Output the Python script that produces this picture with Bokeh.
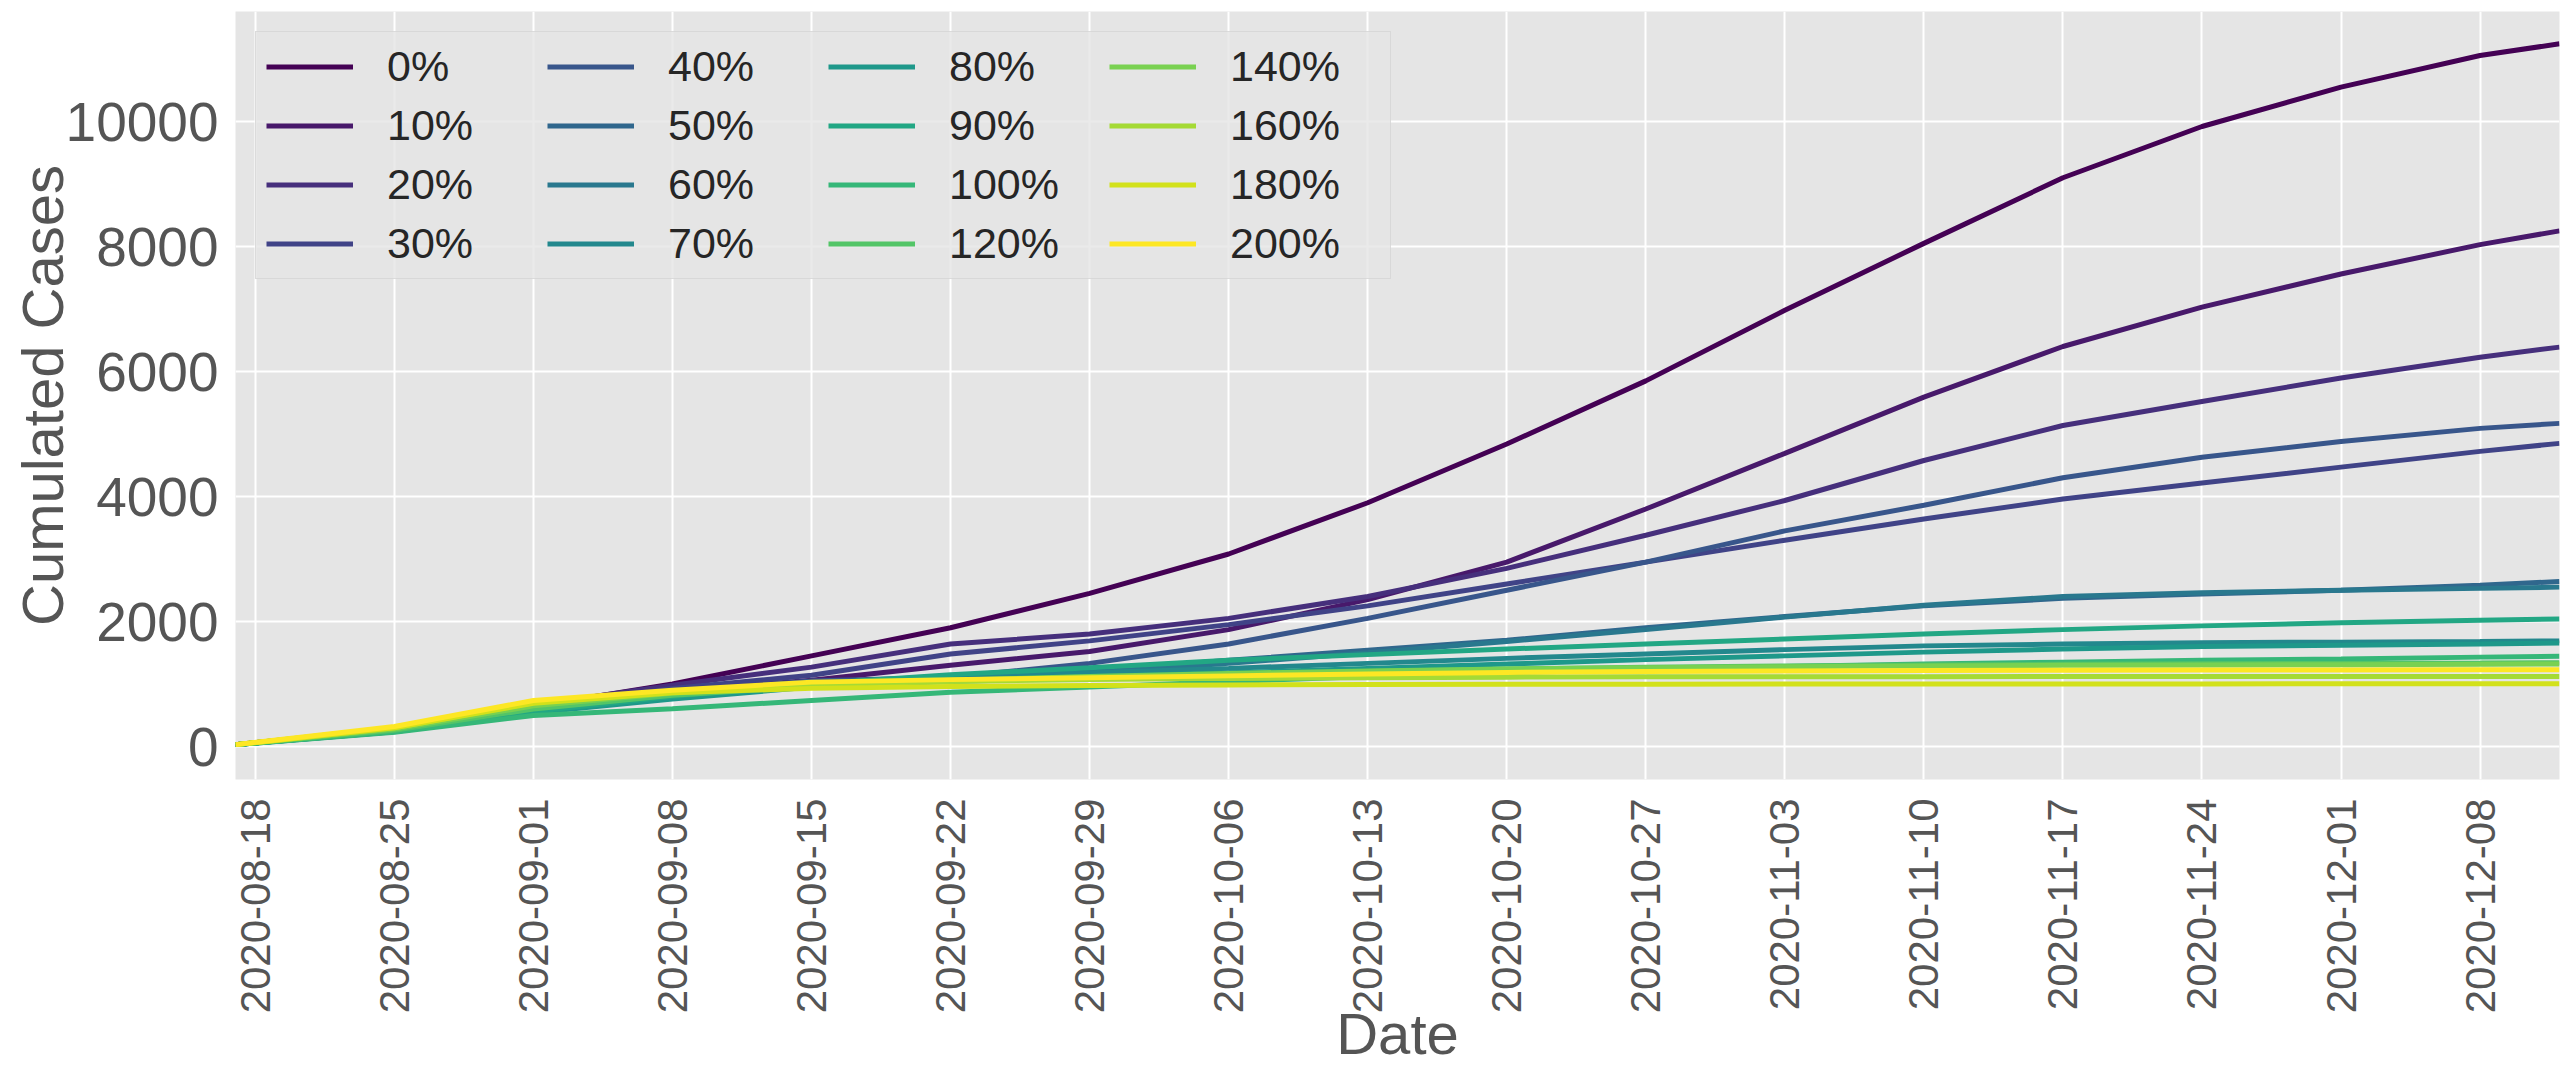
import math
import pandas as pd
from bokeh.plotting import figure
from bokeh.models import (Range1d, FixedTicker, DatetimeTickFormatter, Legend,
                          LegendItem, ColumnDataSource)
from bokeh.palettes import Viridis256
from bokeh.embed import file_html
from bokeh.resources import INLINE

# ---------------- data ----------------
dates = ["2020-08-17", "2020-08-25", "2020-09-01", "2020-09-08", "2020-09-15",
         "2020-09-22", "2020-09-29", "2020-10-06", "2020-10-13", "2020-10-20",
         "2020-10-27", "2020-11-03", "2020-11-10", "2020-11-17", "2020-11-24",
         "2020-12-01", "2020-12-08", "2020-12-12"]

labels = ["0%", "10%", "20%", "30%", "40%", "50%", "60%", "70%", "80%", "90%",
          "100%", "120%", "140%", "160%", "180%", "200%"]

cases_0 = [30, 270, 640, 1000, 1450, 1900, 2450, 3080, 3900, 4840, 5850, 6980, 8050, 9100, 9920, 10550, 11056, 11243]
cases_10 = [30, 250, 600, 880, 1060, 1300, 1520, 1870, 2350, 2950, 3800, 4690, 5590, 6400, 7030, 7560, 8030, 8250]
cases_20 = [30, 280, 660, 980, 1270, 1640, 1800, 2050, 2400, 2850, 3380, 3936, 4576, 5136, 5520, 5895, 6229, 6390]
cases_30 = [30, 270, 630, 930, 1140, 1480, 1690, 1950, 2250, 2600, 2950, 3300, 3640, 3960, 4215, 4470, 4722, 4850]
cases_40 = [30, 260, 600, 860, 1050, 1110, 1330, 1640, 2050, 2500, 2950, 3450, 3860, 4300, 4629, 4880, 5090, 5170]
cases_50 = [30, 250, 570, 820, 1000, 1080, 1200, 1380, 1540, 1700, 1900, 2080, 2250, 2370, 2440, 2500, 2580, 2640]
cases_60 = [30, 240, 560, 800, 980, 1060, 1170, 1330, 1500, 1680, 1870, 2070, 2260, 2400, 2460, 2500, 2530, 2550]
cases_70 = [30, 240, 550, 790, 970, 1100, 1180, 1250, 1330, 1410, 1480, 1550, 1610, 1640, 1660, 1670, 1680, 1690]
cases_80 = [30, 235, 540, 760, 950, 1050, 1120, 1180, 1250, 1320, 1390, 1450, 1510, 1560, 1600, 1620, 1640, 1655]
cases_90 = [30, 245, 560, 800, 1000, 1150, 1260, 1380, 1470, 1560, 1640, 1720, 1800, 1870, 1930, 1980, 2020, 2040]
cases_100 = [30, 229, 496, 603, 736, 869, 950, 1040, 1120, 1180, 1230, 1280, 1320, 1350, 1380, 1400, 1430, 1445]
cases_120 = [30, 260, 600, 820, 960, 1040, 1100, 1150, 1200, 1240, 1270, 1290, 1305, 1315, 1325, 1330, 1335, 1340]
cases_140 = [30, 280, 650, 850, 980, 1060, 1120, 1170, 1210, 1240, 1260, 1275, 1290, 1300, 1305, 1310, 1315, 1320]
cases_160 = [30, 300, 700, 880, 990, 1040, 1070, 1090, 1100, 1110, 1115, 1117, 1118, 1119, 1120, 1120, 1120, 1120]
cases_180 = [30, 300, 690, 860, 930, 960, 975, 985, 992, 996, 998, 1000, 1001, 1002, 1002, 1003, 1003, 1003]
cases_200 = [30, 320, 736, 900, 1030, 1070, 1100, 1130, 1160, 1185, 1200, 1210, 1218, 1222, 1225, 1226, 1227, 1227]

series = [cases_0, cases_10, cases_20, cases_30, cases_40, cases_50, cases_60, cases_70,
          cases_80, cases_90, cases_100, cases_120, cases_140, cases_160, cases_180, cases_200]

tick_dates = ["2020-08-18", "2020-08-25", "2020-09-01", "2020-09-08", "2020-09-15",
              "2020-09-22", "2020-09-29", "2020-10-06", "2020-10-13", "2020-10-20",
              "2020-10-27", "2020-11-03", "2020-11-10", "2020-11-17", "2020-11-24",
              "2020-12-01", "2020-12-08"]
y_ticks = [0, 2000, 4000, 6000, 8000, 10000]
x_title = "Date"
y_title = "Cumulated Cases"

# ---------------- figure ----------------
x = pd.to_datetime(dates)
n = len(series)
colors = [Viridis256[round(i * 255 / (n - 1))] for i in range(n)]

def ms(d):
    return pd.Timestamp(d).value // 10**6

p = figure(width=2568, height=1073, x_axis_type="datetime",
           output_backend="svg", toolbar_location=None,
           x_range=Range1d(ms("2020-08-17"), ms("2020-12-12")),
           y_range=Range1d(-528, 11760),
           min_border_left=235, min_border_right=9, min_border_top=11,
           min_border_bottom=294)

p.background_fill_color = "#E5E5E5"
p.border_fill_color = "white"
p.outline_line_color = None

items = []
for lab, vals, col in zip(labels, series, colors):
    src = ColumnDataSource(dict(x=x, y=vals))
    r = p.line("x", "y", source=src, line_color=col, line_width=5)
    items.append(LegendItem(label=lab, renderers=[r]))

# grid
for g in (p.xgrid, p.ygrid):
    g.grid_line_color = "white"
    g.grid_line_width = 2

# axes
p.xaxis.ticker = FixedTicker(ticks=[ms(d) for d in tick_dates])
fmt = "%Y-%m-%d"
p.xaxis.formatter = DatetimeTickFormatter(milliseconds=fmt, seconds=fmt, minsec=fmt,
                                          minutes=fmt, hourmin=fmt, hours=fmt,
                                          days=fmt, months=fmt, years=fmt)
p.yaxis.ticker = FixedTicker(ticks=y_ticks)

for ax in (p.xaxis[0], p.yaxis[0]):
    ax.axis_line_color = None
    ax.major_tick_line_color = None
    ax.minor_tick_line_color = None
    ax.major_tick_out = 0
    ax.major_tick_in = 0
    ax.minor_tick_out = 0
    ax.major_label_text_color = "#555555"
    ax.major_label_text_font = "Liberation Sans"
    ax.axis_label_text_color = "#555555"
    ax.axis_label_text_font = "Liberation Sans"
    ax.axis_label_text_font_style = "normal"
    ax.axis_label_text_font_size = "58px"

p.xaxis.major_label_orientation = math.pi / 2
p.xaxis.major_label_text_font_size = "42px"
p.xaxis.major_label_standoff = 19
p.xaxis.axis_label = x_title
p.xaxis.axis_label_standoff = -15

p.yaxis.major_label_text_font_size = "55px"
p.yaxis.major_label_standoff = 17
p.yaxis.axis_label = y_title
p.yaxis.axis_label_standoff = -12

legend = Legend(items=items, location="top_left", nrows=4, orientation="vertical")
legend.margin = 20
legend.padding = 10
legend.spacing = 10
legend.glyph_width = 87
legend.glyph_height = 49
legend.label_height = 49
legend.label_width = 150
legend.label_standoff = 34
legend.label_text_font = "Liberation Sans"
legend.label_text_font_size = "43px"
legend.label_text_color = "#262626"
legend.background_fill_color = "#E5E5E5"
legend.background_fill_alpha = 0.8
legend.border_line_color = "#CCCCCC"
legend.border_line_width = 1
p.add_layout(legend)

open("out.html", "w").write(file_html(p, INLINE))
